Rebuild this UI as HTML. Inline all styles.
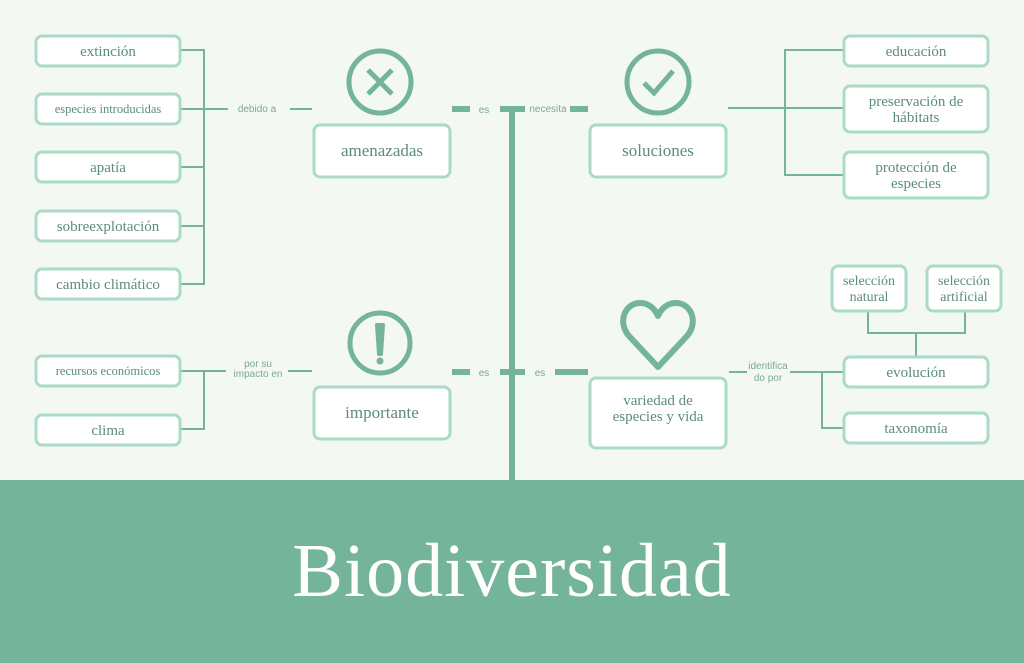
<!DOCTYPE html>
<html><head><meta charset="utf-8"><style>
body{margin:0;width:1024px;height:663px;overflow:hidden;background:#f3f8f2}
svg{display:block}
.b{fill:#fff;stroke:#a9dbc6;stroke-width:3}
.t{font-family:"Liberation Serif",serif;fill:#5b8c7c;text-anchor:middle}
.s{font-family:"Liberation Sans",sans-serif;fill:#7aa898;font-size:10px;text-anchor:middle}
.l{stroke:#74b49a;stroke-width:2;fill:none}
.d{stroke:#74b49a;stroke-width:6;fill:none}
</style></head><body>
<svg width="1024" height="663" viewBox="0 0 1024 663">
<rect x="0" y="0" width="1024" height="480" fill="#f3f8f2"/>
<path class="l" d="M180 50H204V284H180M180 109H228M180 167H204M180 226H204M290 109H312"/>
<text class="s" x="257" y="112">debido a</text>
<rect class="b" x="36" y="36" width="144" height="30" rx="6"/><text class="t" x="108" y="56" font-size="15">extinción</text>
<rect class="b" x="36" y="94" width="144" height="30" rx="6"/><text class="t" x="108" y="113" font-size="12.5">especies introducidas</text>
<rect class="b" x="36" y="152" width="144" height="30" rx="6"/><text class="t" x="108" y="172" font-size="15">apatía</text>
<rect class="b" x="36" y="211" width="144" height="30" rx="6"/><text class="t" x="108" y="231" font-size="15">sobreexplotación</text>
<rect class="b" x="36" y="269" width="144" height="30" rx="6"/><text class="t" x="108" y="289" font-size="15">cambio climático</text>
<path class="d" d="M452 109H470M500 109H525M570 109H588M452 372H470M500 372H525M555 372H588"/>
<path d="M512 109V480" stroke="#74b49a" stroke-width="6"/>
<text class="s" x="484" y="113">es</text>
<text class="s" x="548" y="112" font-size="9">necesita</text>
<text class="s" x="484" y="376">es</text>
<text class="s" x="540" y="376">es</text>
<circle cx="380" cy="82" r="31" fill="none" stroke="#74b49a" stroke-width="5"/>
<path d="M368 70L392 94M392 70L368 94" stroke="#74b49a" stroke-width="5"/>
<rect class="b" x="314" y="125" width="136" height="52" rx="6"/><text class="t" x="382" y="156" font-size="17">amenazadas</text>
<circle cx="658" cy="82" r="31" fill="none" stroke="#74b49a" stroke-width="5"/>
<path d="M644 83L654 93L673 71" stroke="#74b49a" stroke-width="5" fill="none"/>
<rect class="b" x="590" y="125" width="136" height="52" rx="6"/><text class="t" x="658" y="156" font-size="17">soluciones</text>
<path class="l" d="M728 108H785M843 50H785V175H843M785 108H843"/>
<rect class="b" x="844" y="36" width="144" height="30" rx="6"/><text class="t" x="916" y="56" font-size="15">educación</text>
<rect class="b" x="844" y="86" width="144" height="46" rx="6"/><text class="t" x="916" y="106" font-size="15">preservación de</text><text class="t" x="916" y="122" font-size="15">hábitats</text>
<rect class="b" x="844" y="152" width="144" height="46" rx="6"/><text class="t" x="916" y="172" font-size="15">protección de</text><text class="t" x="916" y="188" font-size="15">especies</text>
<path class="l" d="M180 371H226M204 371V429H180M288 371H312"/>
<text class="s" x="258" y="367" font-size="9">por su</text><text class="s" x="258" y="377" font-size="9">impacto en</text>
<rect class="b" x="36" y="356" width="144" height="30" rx="6"/><text class="t" x="108" y="375" font-size="12.5">recursos económicos</text>
<rect class="b" x="36" y="415" width="144" height="30" rx="6"/><text class="t" x="108" y="435" font-size="15">clima</text>
<circle cx="380" cy="343" r="30" fill="none" stroke="#74b49a" stroke-width="5"/>
<path d="M377 325L383 325L381 354L379 354Z" stroke="#74b49a" stroke-width="4" stroke-linejoin="round" fill="#74b49a"/>
<circle cx="380" cy="361" r="3.5" fill="#74b49a"/>
<rect class="b" x="314" y="387" width="136" height="52" rx="6"/><text class="t" x="382" y="418" font-size="17">importante</text>
<path d="M658 367L629 336C617 322 625 303 640 303C649 303 655 309 658 316C661 309 667 303 676 303C691 303 699 322 687 336Z" fill="none" stroke="#74b49a" stroke-width="6" stroke-linejoin="round"/>
<rect class="b" x="590" y="378" width="136" height="70" rx="6"/><text class="t" x="658" y="405" font-size="15">variedad de</text><text class="t" x="658" y="421" font-size="15">especies y vida</text>
<path class="l" d="M729 372H747M790 372H843M822 372V428H843M868 311V333H965V311M916 333V356"/>
<text class="s" x="768" y="369" font-size="9">identifica</text><text class="s" x="768" y="381" font-size="9">do por</text>
<rect class="b" x="832" y="266" width="74" height="45" rx="6"/><text class="t" x="869" y="285" font-size="14">selección</text><text class="t" x="869" y="301" font-size="14">natural</text>
<rect class="b" x="927" y="266" width="74" height="45" rx="6"/><text class="t" x="964" y="285" font-size="14">selección</text><text class="t" x="964" y="301" font-size="14">artificial</text>
<rect class="b" x="844" y="357" width="144" height="30" rx="6"/><text class="t" x="916" y="377" font-size="15">evolución</text>
<rect class="b" x="844" y="413" width="144" height="30" rx="6"/><text class="t" x="916" y="433" font-size="15">taxonomía</text>
<rect x="0" y="480" width="1024" height="183" fill="#74b49b"/>
<text x="512" y="596" font-family="Liberation Serif,serif" font-size="76" fill="#fff" text-anchor="middle" letter-spacing="1">Biodiversidad</text>
</svg>
</body></html>
